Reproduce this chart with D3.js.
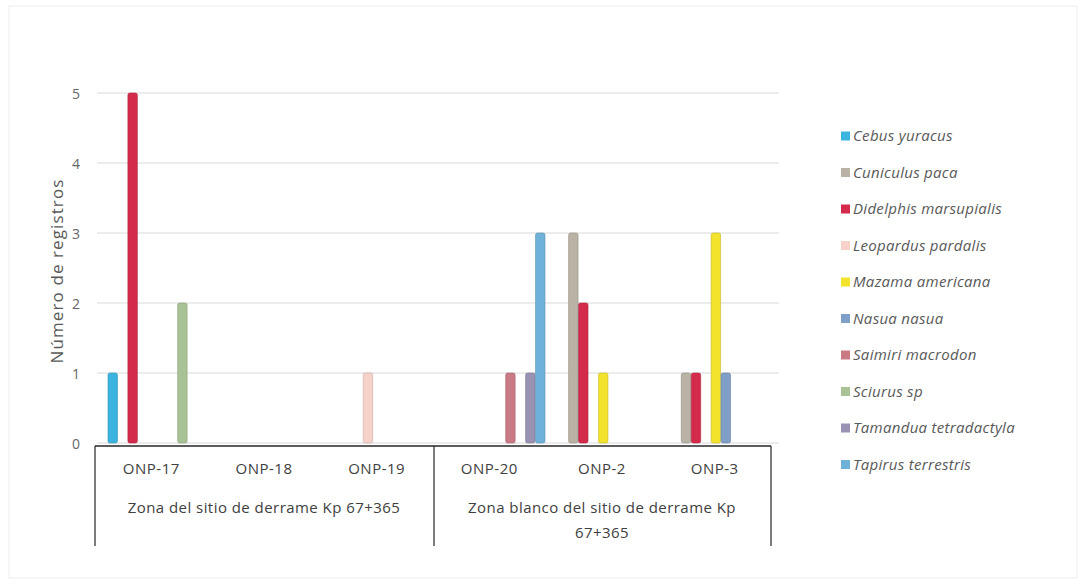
<!DOCTYPE html>
<html><head><meta charset="utf-8">
<script src="https://cdn.jsdelivr.net/npm/d3@7/dist/d3.min.js"></script>
<style>body{margin:0;background:#fff}svg{display:block}</style>
</head><body><svg id="c" width="1086" height="588"></svg>
<script>
const categories = ["ONP-17","ONP-18","ONP-19","ONP-20","ONP-2","ONP-3"];
const groups = [
  {name:["Zona del sitio de derrame Kp 67+365"], from:0, to:2},
  {name:["Zona blanco del sitio de derrame Kp","67+365"], from:3, to:5}
];
const species = ["Cebus yuracus","Cuniculus paca","Didelphis marsupialis","Leopardus pardalis","Mazama americana","Nasua nasua","Saimiri macrodon","Sciurus sp","Tamandua tetradactyla","Tapirus terrestris"];
const colors = ["#3cb4e0","#b9b2a5","#d42a4c","#f6d2c8","#f3e32c","#7f9fc8","#c97a84","#a8c296","#9a92b2","#6fb2d9"];
// values per species, per category (ONP-17..ONP-3)
const cebus      = [1,0,0,0,0,0];
const cuniculus  = [0,0,0,0,3,1];
const didelphis  = [5,0,0,0,2,1];
const leopardus  = [0,0,1,0,0,0];
const mazama     = [0,0,0,0,1,3];
const nasua      = [0,0,0,0,0,1];
const saimiri    = [0,0,0,1,0,0];
const sciurus    = [2,0,0,0,0,0];
const tamandua   = [0,0,0,1,0,0];
const tapirus    = [0,0,0,3,0,0];
const seriesValues = [cebus,cuniculus,didelphis,leopardus,mazama,nasua,saimiri,sciurus,tamandua,tapirus];
const yTicks = [0,1,2,3,4,5];

const svg = d3.select("#c");
const font = "'Open Sans', Lato, sans-serif";
svg.append("rect").attr("x",9).attr("y",6).attr("width",1068).attr("height",572)
  .attr("fill","#fff").attr("stroke","#eeeeee");

const x0 = d3.scaleBand().domain(categories).range([95,771]);
const x1 = d3.scaleBand().domain(species).range([12.5,112]).paddingInner(0);
const y = d3.scaleLinear().domain([0,5]).range([443,93]);

// gridlines
svg.append("g").selectAll("line").data(yTicks).join("line")
  .attr("x1",97).attr("x2",779).attr("y1",d=>y(d)).attr("y2",d=>y(d))
  .attr("stroke","#d9d9d9").attr("stroke-width",1);

// y tick labels
svg.append("g").selectAll("text").data(yTicks).join("text")
  .attr("x",76).attr("y",d=>y(d)+6).attr("text-anchor","middle")
  .attr("font-family",font).attr("font-size",14).attr("fill","#666").text(d=>d);

svg.append("text").attr("transform","translate(63,271) rotate(-90)")
  .attr("text-anchor","middle").attr("font-family",font).attr("font-size",17)
  .attr("letter-spacing",1.1)
  .attr("fill","#595959").text("Número de registros");

// bars
const data = [];
seriesValues.forEach((vals,si)=>vals.forEach((v,ci)=>{ if(v>0) data.push({s:species[si],c:categories[ci],v,col:colors[si]}); }));
svg.append("g").selectAll("rect").data(data).join("rect")
  .attr("x",d=>x0(d.c)+x1(d.s)+0.5).attr("width",x1.bandwidth()-0.5)
  .attr("y",d=>y(d.v)).attr("height",d=>y(0)-y(d.v))
  .attr("rx",2).attr("fill",d=>d.col)
  .attr("stroke",d=>d3.color(d.col).darker(0.6)).attr("stroke-width",0.6);

// category axis box
const ax = svg.append("g").attr("stroke","#262626").attr("stroke-width",1.5).attr("fill","none");
ax.append("line").attr("x1",95).attr("x2",771).attr("y1",446).attr("y2",446);
[95,434,771].forEach(xx=>ax.append("line").attr("x1",xx).attr("x2",xx).attr("y1",446).attr("y2",546).attr("stroke-width",1.2));

svg.append("g").selectAll("text").data(categories).join("text")
  .attr("x",d=>x0(d)+x0.bandwidth()/2).attr("y",474).attr("text-anchor","middle")
  .attr("font-family",font).attr("font-size",15).attr("letter-spacing",0.5)
  .attr("fill","#404040").text(d=>d);

groups.forEach(g=>{
  const cx = (x0(categories[g.from]) + x0(categories[g.to]) + x0.bandwidth())/2;
  g.name.forEach((line,i)=>{
    svg.append("text").attr("x",cx).attr("y",513+i*25).attr("text-anchor","middle")
      .attr("font-family",font).attr("font-size",15).attr("letter-spacing",0.45)
      .attr("fill","#404040").text(line);
  });
});

// legend
const lg = svg.append("g").selectAll("g").data(species).join("g")
  .attr("transform",(d,i)=>`translate(841,${136+i*36.5})`);
lg.append("rect").attr("x",0).attr("y",-4.5).attr("width",9).attr("height",9)
  .attr("fill",(d,i)=>colors[i]);
lg.append("text").attr("x",12).attr("y",5).attr("font-family",font)
  .attr("font-style","italic").attr("font-size",15).attr("letter-spacing",0.3)
  .attr("fill","#595959").text(d=>d);
</script></body></html>
